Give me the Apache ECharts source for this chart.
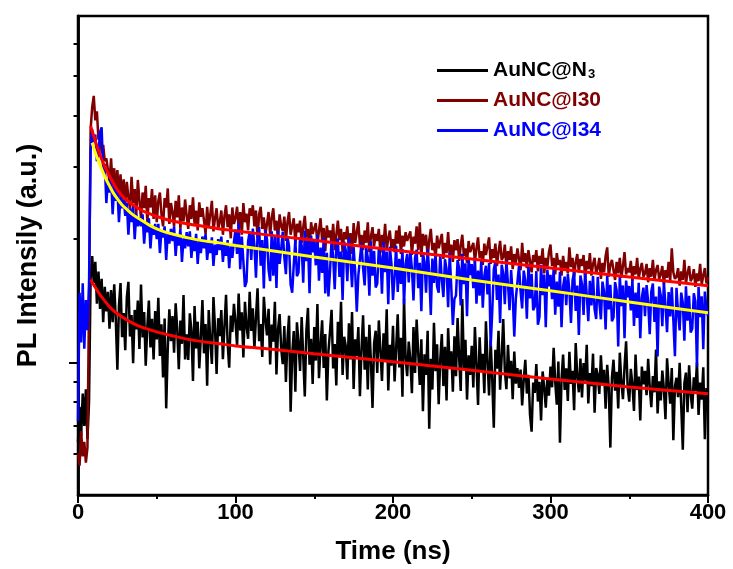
<!DOCTYPE html>
<html><head><meta charset="utf-8">
<script src="https://cdn.jsdelivr.net/npm/echarts@6/dist/echarts.min.js"></script>
<style>html,body{margin:0;padding:0;background:#fff}#c{width:733px;height:569px}</style>
</head><body><div id="c"></div>
<script>
// time grid of the decay traces (ns)
const timeStart = 0;
const timeStep = 1;
const seriesNames = ['AuNC@N3', 'AuNC@I30', 'AuNC@I34'];

// measured PL decays (counts), one value per ns from 0 to 400 ns
const n3Data = [640,780,660,840,700,860,650,800,
1600,1820,
1565,1761,1391,1668,1351,1600,1255,1530,1333,1487,
1209,1503,1255,1551,1271,960,1377,1563,1153,1320,
1071,1443,1574,1157,1305,996,1344,1204,1416,1079,
1551,1152,1329,982,1223,1416,1088,1279,1017,1335,
1139,1439,1038,1240,920,1281,773,1086,1349,1127,
1299,1057,1395,1206,963,1267,1111,1462,1017,1172,
1015,1319,1198,901,1373,1083,1258,968,1157,1420,
1053,1242,878,1343,1134,992,1445,1215,938,1283,
1160,1343,1019,1228,1464,1113,971,1302,1187,1390,
1258,1096,1474,1197,1326,1029,1407,1224,1143,1488,
1194,1356,1079,1289,1518,1127,1241,1032,1446,1275,
1164,1353,989,1238,1124,1407,935,1205,1313,1083,
991,1227,896,1139,1301,758,1045,1193,849,1254,
1116,954,1291,1035,826,1197,1359,988,1143,886,
1220,1011,1389,916,1099,1267,970,1173,808,1065,
1190,1345,967,1109,879,1257,1041,1406,933,1156,
1098,909,1247,1017,1328,862,1139,1037,1220,828,
1075,1304,960,1156,859,1237,1000,775,1115,1196,
943,1267,1071,902,1179,1010,1348,855,1105,983,
1230,899,1081,1311,973,1149,825,1433,1027,926,
1125,1017,842,1220,943,1274,1058,882,1139,761,
1048,933,1196,689,1021,859,1250,953,1108,791,
1017,1173,876,1092,808,1213,970,1065,849,1159,
926,1284,1028,852,1428,967,1136,812,1041,933,
1098,869,1220,990,788,1152,950,1051,842,1260,
1007,831,1135,912,693,1074,966,1196,858,1034,
1277,956,861,1104,915,1010,814,1064,888,969,
867,961,786,907,1015,840,934,745,678,894,
843,992,803,897,722,951,870,776,917,830,
978,870,1086,897,789,1005,637,911,1046,857,
968,806,1062,887,954,765,1116,927,846,1022,
822,997,903,1105,795,943,876,1051,754,970,
933,838,1041,879,960,771,987,865,620,919,
1016,854,949,773,1057,895,814,976,1127,868,
803,965,884,762,1046,857,924,722,978,884,
954,832,1021,873,778,927,846,1075,751,900,
808,956,862,727,1024,889,794,970,646,875,
918,823,999,783,613,891,945,756,985,837,
772,920,853,1001,745,893,812,974,650,866,799];

const i30Data = [600,560,680,590,640,570,620,
1400,
3700,4200,4473,3900,4100,3500,3600,3250,3400,3100,3150,2950,
2760,3150,2700,2980,2620,2950,2540,2880,2500,2800,
2420,2760,2530,2380,2840,2450,2650,2300,2790,2480,
2250,2600,2380,2700,2200,2520,2390,2650,2240,2560,
2200,2480,2600,2300,2150,2520,2390,2660,2180,2450,
2330,2150,2480,2260,2560,2120,2390,2210,2500,2280,
2120,2420,2240,2530,2180,2350,2100,2460,2270,2380,
2220,2060,2400,2150,2300,2480,2090,2250,2380,2120,
2200,2350,2050,2280,2420,2140,2300,2010,2390,2180,
2250,2400,2130,2330,2050,2450,2200,2310,2100,2380,
2280,2420,2150,2350,2010,2300,2400,2120,2260,2050,
2180,2330,2040,2260,2380,2100,2220,1990,2300,2150,
2100,2270,1980,2200,2330,2050,2150,2250,1950,2180,
2080,2220,1960,2140,2280,2020,2120,1900,2200,2060,
2040,2190,1930,2100,2250,1980,2130,1870,2160,2020,
2100,1950,2180,1880,2050,2220,1990,2120,1860,2080,
2000,2150,1900,2070,1840,2190,1960,2080,2210,1930,
2050,1880,2100,1960,2200,1860,2030,2140,1920,2060,
1980,2120,1850,2050,1940,2180,1880,2010,2100,1900,
2000,1860,2100,1950,2160,1840,2040,1920,2080,1980,
1960,2090,1830,2030,1950,2150,1880,2200,1810,2060,
1930,2050,1800,1990,2120,1880,1960,1780,2040,1900,
1900,2060,1790,1960,1850,2080,1820,1940,1760,1990,
1880,2000,1770,1930,2050,1820,1900,1750,1980,1860,
1850,1960,1760,1900,2020,1800,1870,1730,1950,1830,
1830,2020,1740,1890,1800,1950,1720,1860,1980,1780,
1810,1940,1700,1870,1780,1920,1690,1840,1750,1900,
1790,1680,1960,1760,1850,1700,1880,1770,1660,1830,
1760,1880,1670,1820,1740,1900,1650,1800,1710,1860,
1940,1720,1800,1640,1850,1730,1780,1630,1820,1700,
1760,1650,1910,1710,1800,1620,1760,1840,1660,1790,
1720,1830,1610,1770,1690,1850,1630,1740,1800,1650,
1700,1800,1600,1750,1660,1820,1910,1620,1730,1780,
1680,1590,1760,1650,1800,1610,1720,1860,1640,1700,
1660,1770,1580,1720,1640,1800,1600,1690,1750,1620,
1650,1740,1570,1700,1620,1780,1590,1680,1730,1600,
1640,1720,1550,1680,1610,1760,1580,1900,1660,1600,
1620,1700,1540,1670,1590,1780,1560,1650,1720,1580,
1610,1690,1530,1650,1580,1740,1550,1630,1700,1560,1620];

const i34Data = [720,1480,1120,1560,1080,1420,1200,1550,
3300,3700,3450,3600,3100,3250,3650,3750,2900,3050,2450,2800,
2600,2850,2300,2720,2480,2650,2200,2560,2380,2500,
2280,2450,2050,2380,2200,2420,2000,2310,2150,2260,
2150,2300,1950,2200,2080,2250,1900,2150,2050,2180,
2000,2180,1850,2100,2020,2150,1780,2080,1950,2120,
1980,2150,1820,2050,1930,2120,1760,2010,1900,2080,
1920,2090,1800,2000,1870,2060,1740,1980,1850,2030,
1900,2060,1780,1960,1850,2020,1720,1940,1830,2000,
1880,2030,1760,1950,1820,1990,1700,1920,1800,1970,
2110,1840,2190,1690,2030,1765,1530,1575,1975,2090,
1781,2122,1933,1611,2047,2141,1724,1990,1516,2103,
2002,1684,1580,2090,1628,2039,1520,2096,1740,1890,
2086,1809,1643,2031,1920,1551,1480,1735,1994,1624,
1658,2022,1931,1567,2095,1767,1986,1476,2041,1858,
1979,1727,2051,1583,1907,1655,2015,1475,1853,1449,
1670,1990,1813,1510,1919,2008,1617,1866,1422,1972,
1878,1580,2018,1773,1527,1913,1667,1331,1632,1615,
1958,1698,1542,1906,1802,1456,1976,1629,1872,1525,
1558,1900,1815,1472,1969,1661,1866,1387,1917,1746,
1422,1622,1927,1487,1791,1555,1893,1386,1741,1842,
1568,1868,1701,1418,1801,1885,1518,1751,1334,1851,
1761,1481,1893,1662,1307,1794,1564,1844,1531,1481,
1835,1592,1445,1786,1689,1364,1851,1527,1236,1429,
1458,1778,1698,1378,1842,1554,1746,1298,1794,1634,
1739,1518,1802,1391,1676,1455,1771,1360,1628,1723,
1467,1748,1094,1327,1686,1764,1421,1639,1249,1733,
1650,1388,1773,1557,1342,1681,1465,1157,1434,1449,
1722,1494,1356,1676,1585,1280,1737,1433,1646,1341,
1370,1671,1236,1294,1731,1460,1640,1219,1686,1535,
1636,1428,1695,1309,1576,1368,1665,1219,1532,1621,
1381,1645,1498,1249,1587,1660,1337,1542,1168,1631,
1553,1306,1669,1466,1262,1582,1378,1625,1349,1277,
1619,1404,1275,1576,1490,1204,1634,1347,1548,1261,
1288,1571,1500,1094,1627,1373,1542,1146,1585,1443,
1537,1341,1593,1229,1481,1285,1565,1146,1439,1523,
1297,1546,1408,1173,1490,1559,1256,1449,1034,1532,
1458,1227,1567,1377,1186,1486,1295,1527,1268,1036,
1521,1319,1198,1481,1400,1131,1534,1265,1454,1184,
1210,1476,1410,978,1530,1290,1450,1077,1490,1357,1300];

// fitted decay curves (time ns, counts)
const n3FitTimes  = [8,10,12,14,16,18,20,25,30,35,40,50,60,70,80,90,100,120,150,200,250,300,350,400];
const n3FitValues = [1591,1547,1504,1463,1430,1398,1367,1315,1278,1246,1222,1188,1162,1139,1123,1111,1098,1080,1050,1004,957,912,872,839];
const i30FitTimes  = [8,10,12,14,16,18,20,22,25,28,30,35,40,45,50,55,60,70,80,90,100,120,150,200,250,300,350,400];
const i30FitValues = [3778,3572,3378,3211,3070,2951,2854,2759,2638,2550,2507,2424,2357,2311,2273,2241,2216,2179,2149,2119,2096,2049,1987,1883,1790,1702,1618,1539];
const i34FitTimes  = [9,10,12,14,16,18,20,22,25,28,30,35,40,45,50,55,60,70,80,90,100,120,150,200,250,300,350,400];
const i34FitValues = [3435,3340,3175,3035,2902,2790,2698,2609,2507,2424,2384,2292,2228,2167,2119,2084,2060,2015,1981,1959,1931,1883,1810,1702,1591,1496,1406,1322];

// axes
const xRange = [0, 400];
const xTickStep = 100;
const yRange = [475, 7010];
const yMajorTicks = [1000];
const yMinorTicks = [600, 700, 800, 900, 2000, 3000, 4000, 5000, 6000];

const FONT = "'Liberation Sans', Arial, sans-serif";
const lg = Math.log10;
const toPoints = vals => vals.map((v, i) => [timeStart + i * timeStep, lg(v)]);
const toFit = (ts, vs) => ts.map((t, i) => [t, lg(vs[i])]);

const dataColors = ['#000000', '#800000', '#0000ff'];
const chart = echarts.init(document.getElementById('c'), null, {renderer: 'canvas'});

function yAx(ticks, len, extra) {
  return Object.assign({
    type: 'value', position: 'left',
    min: lg(yRange[0]), max: lg(yRange[1]),
    axisLine: {show: true, lineStyle: {color: '#000', width: 2.5}},
    axisTick: {show: true, inside: false, length: len, lineStyle: {color: '#000', width: 2}, customValues: ticks.map(lg)},
    axisLabel: {show: false},
    splitLine: {show: false}
  }, extra || {});
}

function dataSeries(k, vals) {
  return {
    name: seriesNames[k], type: 'line', data: toPoints(vals),
    symbol: 'none', showSymbol: false, silent: true,
    lineStyle: {color: dataColors[k], width: 2.5},
    itemStyle: {color: dataColors[k]},
    z: 2 + k
  };
}
function fitSeries(name, ts, vs, color) {
  return {
    name: name, type: 'line', data: toFit(ts, vs),
    symbol: 'none', showSymbol: false, silent: true, smooth: 0.3,
    lineStyle: {color: color, width: 3}, itemStyle: {color: color},
    z: 10
  };
}

chart.setOption({
  animation: false,
  backgroundColor: '#fff',
  grid: {left: 78, right: 25, top: 16, bottom: 74, show: true, borderColor: '#000', borderWidth: 2.5, outerBoundsMode: 'none'},
  legend: {
    orient: 'vertical', left: 437, top: 60, padding: 0, itemWidth: 51, itemHeight: 3, itemGap: 9, icon: 'rect',
    selectedMode: false,
    data: [
      {name: seriesNames[0], textStyle: {color: dataColors[0]}},
      {name: seriesNames[1], textStyle: {color: dataColors[1]}},
      {name: seriesNames[2], textStyle: {color: dataColors[2]}}
    ],
    formatter: n => n === 'AuNC@N3' ? 'AuNC@N{sub|3}' : n,
    textStyle: {
      fontSize: 21, fontWeight: 'bold', fontFamily: FONT,
      rich: {sub: {fontSize: 13, fontWeight: 'bold', fontFamily: FONT, color: '#000', verticalAlign: 'bottom', padding: [0, 0, 0, 1]}}
    }
  },
  xAxis: {
    type: 'value', min: xRange[0], max: xRange[1], interval: xTickStep,
    axisLine: {show: true, onZero: false, lineStyle: {color: '#000', width: 2.5}},
    axisTick: {show: true, inside: false, length: 8, lineStyle: {color: '#000', width: 2}},
    minorTick: {show: true, splitNumber: 2, length: 4, lineStyle: {color: '#000', width: 2}},
    axisLabel: {fontSize: 22, fontWeight: 'bold', color: '#000', margin: 7, fontFamily: FONT, showMinLabel: true, showMaxLabel: true},
    splitLine: {show: false},
    name: 'Time (ns)', nameLocation: 'middle', nameGap: 44,
    nameTextStyle: {fontSize: 26, fontWeight: 'bold', color: '#000', fontFamily: FONT}
  },
  yAxis: [
    yAx(yMajorTicks, 9, {
      name: 'PL Intensily (a.u.)', nameLocation: 'middle', nameGap: 36,
      nameTextStyle: {fontSize: 27, fontWeight: 'bold', color: '#000', fontFamily: FONT}
    }),
    yAx(yMinorTicks, 4.5)
  ],
  series: [
    dataSeries(0, n3Data),
    dataSeries(1, i30Data),
    dataSeries(2, i34Data),
    fitSeries('fit N3', n3FitTimes, n3FitValues, '#ff0000'),
    fitSeries('fit I34', i34FitTimes, i34FitValues, '#ffff00'),
    fitSeries('fit I30', i30FitTimes, i30FitValues, '#ff0000')
  ]
});
</script></body></html>
